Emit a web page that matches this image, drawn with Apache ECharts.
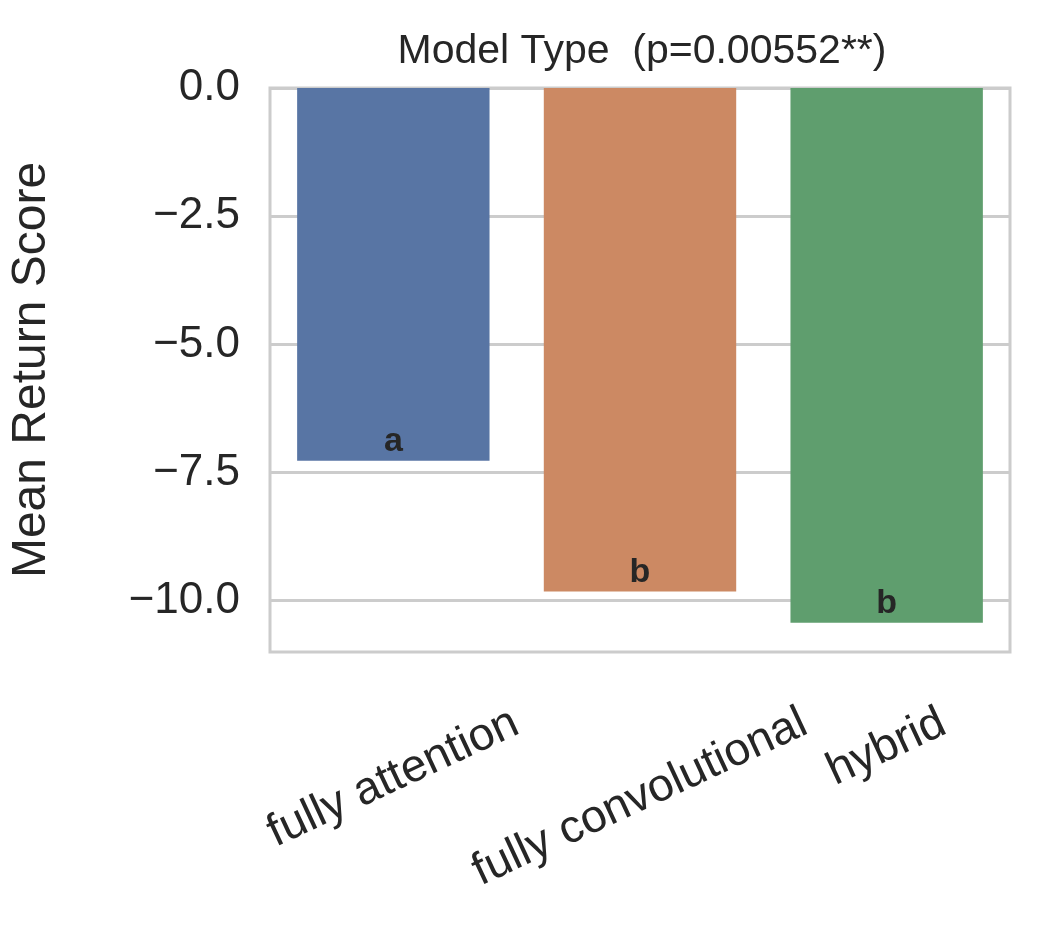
<!DOCTYPE html>
<html><head><meta charset="utf-8">
<script src="https://cdn.jsdelivr.net/npm/echarts@6/dist/echarts.min.js"></script>
<style>html,body{margin:0;background:#fff}#c{width:1039px;height:932px}</style>
</head><body><div id="c"></div>
<script>
const categories = ['fully attention', 'fully convolutional', 'hybrid'];
const values = [-7.27, -9.82, -10.43];
const letters = ['a', 'b', 'b'];
const colors = ['#5875a4', '#cc8963', '#5f9e6e'];
const yTicks = [0, -2.5, -5, -7.5, -10];

const FONT = 'Arial, Liberation Sans, sans-serif';
const chart = echarts.init(document.getElementById('c'));
chart.setOption({
  animation: false,
  textStyle: { fontFamily: FONT, color: '#262626' },
  title: {
    text: 'Model Type  (p=0.00552**)', left: 637, top: 26, textAlign: 'center',
    textStyle: { fontSize: 41, fontWeight: 'normal', color: '#262626' }
  },
  grid: { left: 264, right: 29, top: 88, bottom: 280, show: true, borderColor: '#cccccc', borderWidth: 3 },
  xAxis: {
    type: 'category', data: categories,
    axisLine: { show: false }, axisTick: { show: false },
    axisLabel: { show: false }
  },
  yAxis: {
    type: 'value', min: -11, max: 0,
    name: 'Mean Return Score', nameLocation: 'middle', nameGap: 214,
    nameTextStyle: { fontSize: 48, color: '#262626' },
    axisLine: { show: false },
    axisTick: { show: true, customValues: yTicks, length: 0 },
    axisLabel: { customValues: yTicks, fontSize: 44, color: '#262626', margin: 30,
      formatter: v => (v < 0 ? '\u2212' + Math.abs(v).toFixed(1) : v.toFixed(1)) },
    splitLine: { lineStyle: { color: '#cccccc', width: 3 } }
  },
  series: [{
    type: 'bar', barWidth: '78%',
    data: values.map((v, i) => ({ value: v, itemStyle: { color: colors[i] },
      label: { show: true, position: 'insideBottom', formatter: letters[i], distance: 2 } })),
    label: { fontSize: 34, fontWeight: 'bold', color: '#262626' }
  }]
});

// rotated x labels, centred under each category with their box top just below the axis
const xFont = 46, ang = 25 * Math.PI / 180;
const ctx = document.createElement('canvas').getContext('2d');
ctx.font = xFont + 'px ' + FONT;
const axisBottom = chart.convertToPixel({ yAxisIndex: 0 }, -11);
chart.setOption({
  graphic: categories.map(c => {
    const w = ctx.measureText(c).width, h = xFont;
    const half = (w * Math.sin(ang) + h * Math.cos(ang)) / 2;
    return {
      type: 'text', x: chart.convertToPixel({ xAxisIndex: 0 }, c), y: axisBottom + 48 + half,
      rotation: ang,
      style: { text: c, font: xFont + 'px ' + FONT, fill: '#262626', align: 'center', verticalAlign: 'middle' }
    };
  })
});
</script></body></html>
